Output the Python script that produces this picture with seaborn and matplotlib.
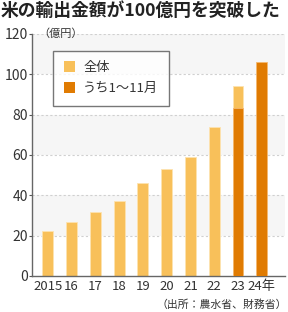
import pandas as pd
import matplotlib.pyplot as plt
import seaborn as sns
from matplotlib.patches import Patch

# data (100 million yen)
years = ['2015', '16', '17', '18', '19', '20', '21', '22', '23', '24年']
total = [22.3, 27.0, 31.7, 37.3, 46.0, 53.0, 59.2, 73.6, 94.0, None]
jan_nov = [None, None, None, None, None, None, None, None, 83.2, 106.3]

light = '#F8C05A'
dark = '#E07B02'
txt = '#333333'

sns.set_style('white')
plt.rcParams['font.family'] = ['Noto Sans CJK JP', 'DejaVu Sans']

df = pd.DataFrame({'year': years, 'total': total, 'jan_nov': jan_nov})

fig = plt.figure(figsize=(2.88, 3.12), dpi=100)
ax = fig.add_axes([0.111, 0.1154, 0.878, 0.776])

# alternating background bands and dotted grid
for lo in (20, 60, 100):
    ax.axhspan(lo, lo + 20, color='#F6F6F6', zorder=0, lw=0)
for y in range(20, 121, 20):
    ax.axhline(y, color='#D0D0D0', lw=0.8, ls=(0, (2, 2)), zorder=1)

sns.barplot(data=df, x='year', y='total', order=years, color=light, width=0.46,
            edgecolor='#FDE3B0', linewidth=0.6, saturation=1, ax=ax, zorder=2)
sns.barplot(data=df, x='year', y='jan_nov', order=years, color=dark, width=0.46,
            edgecolor='#F4B870', linewidth=0.6, saturation=1, ax=ax, zorder=3)

ax.set_xlim(-0.67, 9.97)
ax.set_ylim(0, 120)
ax.set_yticks(range(0, 121, 20))
ax.set_xlabel('')
ax.set_ylabel('')
ax.tick_params(axis='y', length=2, width=0.8, color='#555555', pad=1,
               labelsize=10, labelcolor=txt, direction='out', left=True)
ax.tick_params(axis='x', length=0, pad=3, labelsize=9.5, labelcolor=txt)
for s in ('top', 'right'):
    ax.spines[s].set_visible(False)
for s in ('left', 'bottom'):
    ax.spines[s].set_color('#666666')
    ax.spines[s].set_linewidth(1.0)

handles = [Patch(facecolor=light, edgecolor='none', label='全体'),
           Patch(facecolor=dark, edgecolor='none', label='うち1～11月')]
leg = ax.legend(handles=handles, loc='upper left', bbox_to_anchor=(0.083, 0.93),
                fontsize=9.5, frameon=True, fancybox=False, handlelength=0.9,
                handleheight=0.9, handletextpad=0.6, borderpad=0.8,
                labelspacing=0.6, borderaxespad=0)
leg.get_frame().set_edgecolor('#555555')
leg.get_frame().set_linewidth(1.0)
for t in leg.get_texts():
    t.set_color(txt)

fig.text(0.002, 0.995, '米の輸出金額が100億円を突破した', ha='left', va='top',
         fontsize=12.8, fontweight='bold', color='#222222')
ax.text(0.025, 1.0, '（億円）', transform=ax.transAxes, ha='left', va='center',
        fontsize=8, color=txt)
fig.text(0.995, 0.022, '（出所：農水省、財務省）', ha='right', va='center',
         fontsize=7.8, color=txt)

fig.savefig('out.png', dpi=100)
plt.close()
